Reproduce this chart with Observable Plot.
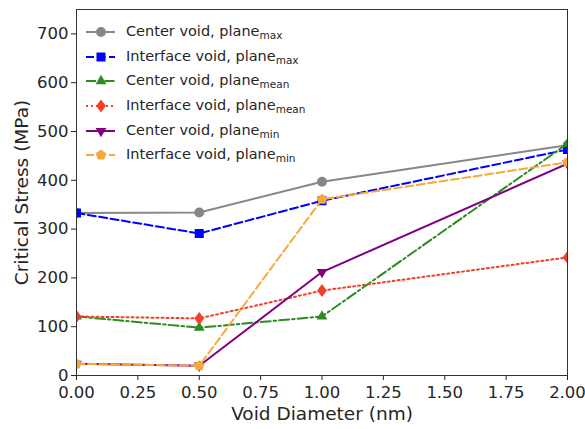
<!DOCTYPE html>
<html><head><meta charset="utf-8">
<script src="https://cdn.jsdelivr.net/npm/d3@7"></script>
<script src="https://cdn.jsdelivr.net/npm/@observablehq/plot@0.6"></script>
<style>
body{margin:0;background:#fff;font-family:"DejaVu Sans",sans-serif;}
#wrap{position:relative;width:585px;height:429px;}
#legend{position:absolute;left:84px;top:20px;font-size:14.5px;color:#262626;}
.row{height:24.6px;display:flex;align-items:center;}
.row span{margin-left:10px;white-space:nowrap;}
.row sub{font-size:10.5px;vertical-align:-3px;}
</style></head>
<body><div id="wrap"></div>
<script>
const diameters = [0, 0.5, 1.0, 2.0];
const centerMax = [333, 334, 397, 472];
const interfaceMax = [333, 291, 358, 463];
const centerMean = [121, 98, 121, 475];
const interfaceMean = [121, 117, 174, 242];
const centerMin = [24, 20, 212, 434];
const interfaceMin = [24, 20, 361, 437];
const xTicks = [0, 0.25, 0.5, 0.75, 1.0, 1.25, 1.5, 1.75, 2.0];
const yTicks = [0, 100, 200, 300, 400, 500, 600, 700];

const triDown = {draw(ctx, size){const r=Math.sqrt(size/Math.PI)*1.25;ctx.moveTo(0,r);ctx.lineTo(-r*0.866,-r*0.5);ctx.lineTo(r*0.866,-r*0.5);ctx.closePath();}};
const triUp = {draw(ctx, size){const r=Math.sqrt(size/Math.PI)*1.25;ctx.moveTo(0,-r);ctx.lineTo(-r*0.866,r*0.5);ctx.lineTo(r*0.866,r*0.5);ctx.closePath();}};
const pentagon = {draw(ctx, size){const r=Math.sqrt(size/Math.PI)*1.1;for(let k=0;k<5;k++){const a=-Math.PI/2+k*2*Math.PI/5;const x=r*Math.cos(a),y=r*Math.sin(a);k?ctx.lineTo(x,y):ctx.moveTo(x,y);}ctx.closePath();}};
const diamond = {draw(ctx, size){const r=Math.sqrt(size/Math.PI)*1.3;ctx.moveTo(0,-r);ctx.lineTo(r*0.75,0);ctx.lineTo(0,r);ctx.lineTo(-r*0.75,0);ctx.closePath();}};
const square = {draw(ctx, size){const r=Math.sqrt(size/Math.PI)*0.9;ctx.rect(-r,-r,2*r,2*r);}};

const series = [
  {name:"Center void, plane", sub:"max", values:centerMax, color:"#878787", dash:null, symbol:"circle"},
  {name:"Interface void, plane", sub:"max", values:interfaceMax, color:"#0000ff", dash:"8,3.5", symbol:square},
  {name:"Center void, plane", sub:"mean", values:centerMean, color:"#2e8b22", dash:"10,3,2.5,3", symbol:triUp},
  {name:"Interface void, plane", sub:"mean", values:interfaceMean, color:"#f0402a", dash:"2,3", symbol:diamond},
  {name:"Center void, plane", sub:"min", values:centerMin, color:"#800080", dash:null, symbol:triDown},
  {name:"Interface void, plane", sub:"min", values:interfaceMin, color:"#f5a93a", dash:"8,3.5", symbol:pentagon},
];

const marks = [];
for (const s of series) {
  const data = diameters.map((d,i)=>({x:d, y:s.values[i]}));
  marks.push(Plot.line(data, {x:"x", y:"y", stroke:s.color, strokeWidth:2, strokeDasharray:s.dash, clip:true}));
  marks.push(Plot.dot(data, {x:"x", y:"y", fill:s.color, stroke:"none", r:5, symbol:()=>s.symbol, clip:true}));
}
marks.push(Plot.frame({stroke:"#333", strokeWidth:1}));

const chart = Plot.plot({
  width:585, height:429,
  marginLeft:76, marginRight:18, marginTop:9, marginBottom:54,
  style:{fontFamily:"DejaVu Sans, sans-serif", fontSize:"16.5px", color:"#262626", background:"#fff"},
  x:{domain:[0,2], ticks:xTicks, tickFormat:d=>d.toFixed(2), tickSize:5, tickPadding:6, label:"Void Diameter (nm)", labelAnchor:"center", labelArrow:"none", labelOffset:44},
  y:{domain:[0,750], ticks:yTicks, tickSize:5, tickPadding:3, label:"Critical Stress (MPa)", labelAnchor:"center", labelArrow:"none", labelOffset:62},
  marks
});
d3.select(chart).selectAll("[aria-label='x-axis label'] text, [aria-label='y-axis label'] text").style("font-size","18.5px");
document.getElementById("wrap").appendChild(chart);

const leg = document.createElement("div");
leg.id = "legend";
for (const s of series) {
  const row = document.createElement("div");
  row.className = "row";
  const svg = d3.create("svg").attr("width",32).attr("height",14);
  svg.append("line").attr("x1",2).attr("x2",31).attr("y1",7).attr("y2",7).attr("stroke",s.color).attr("stroke-width",2).attr("stroke-dasharray",s.dash);
  const sym = typeof s.symbol === "string" ? d3.symbolCircle : s.symbol;
  svg.append("path").attr("transform","translate(17,7)").attr("d", d3.symbol(sym, Math.PI*25)()).attr("fill",s.color);
  row.appendChild(svg.node());
  const t = document.createElement("span");
  t.innerHTML = s.name + "<sub>" + s.sub + "</sub>";
  row.appendChild(t);
  leg.appendChild(row);
}
document.getElementById("wrap").appendChild(leg);
</script></body></html>
